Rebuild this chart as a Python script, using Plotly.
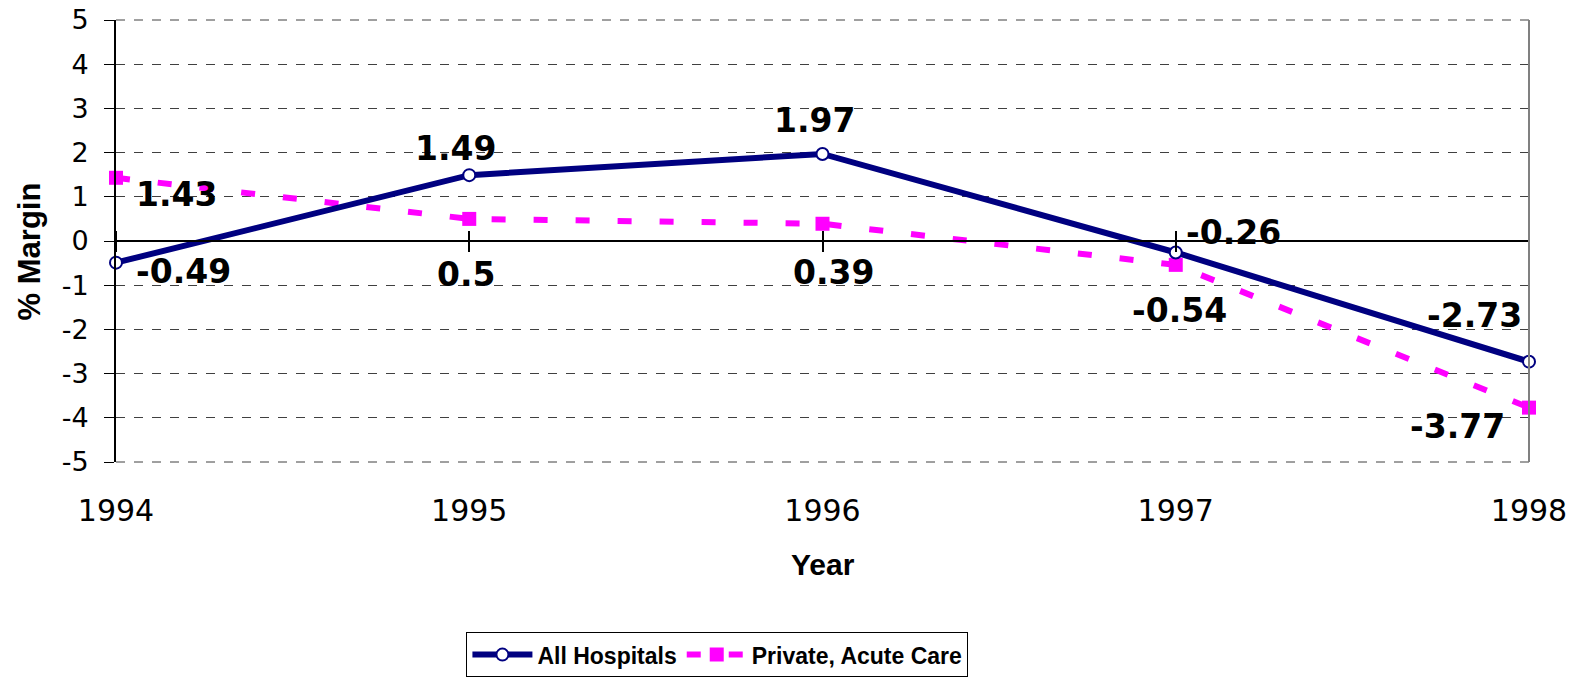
import plotly.graph_objects as go

years = [1994, 1995, 1996, 1997, 1998]
all_hospitals = [-0.49, 1.49, 1.97, -0.26, -2.73]
private_acute = [1.43, 0.5, 0.39, -0.54, -3.77]
year_labels = ["1994", "1995", "1996", "1997", "1998"]
y_ticks = list(range(-5, 6))
y_tick_labels = [str(v) for v in y_ticks]

# label offsets in px (dx, dy downward)
all_offsets = [(67, 9), (-14, -27), (-8, -33), (58, -20), (-55, -46)]
priv_offsets = [(60, 17), (-3, 56), (11, 49), (4, 46), (-72, 19)]

NAVY = "#000080"
MAGENTA = "#FF00FF"
GRID = "#404040"

fig = go.Figure()
fig.add_trace(go.Scatter(
    x=years, y=private_acute, name="Private, Acute Care", mode="lines+markers",
    line=dict(color=MAGENTA, width=6, dash="14px,28px"),
    marker=dict(symbol="square", size=14, color=MAGENTA),
    cliponaxis=False,
))
fig.add_trace(go.Scatter(
    x=years, y=all_hospitals, name="All Hospitals", mode="lines+markers",
    line=dict(color=NAVY, width=6),
    marker=dict(symbol="circle", size=12, color="white", line=dict(color=NAVY, width=2)),
    cliponaxis=False,
))
# empty helper traces so the zero-crossing tick axes are rendered
for ax in ("x2", "x3"):
    fig.add_trace(go.Scatter(x=[None], y=[None], xaxis=ax, yaxis="y", showlegend=False,
                             hoverinfo="skip", mode="lines"))

label_font = dict(family="DejaVu Sans", size=33, color="black", weight="bold")
annotations = []
for x, v, (dx, dy) in zip(years, all_hospitals, all_offsets):
    annotations.append(dict(x=x, y=v, text=f"{v:g}", showarrow=False, xshift=dx, yshift=-dy, font=label_font))
for x, v, (dx, dy) in zip(years, private_acute, priv_offsets):
    annotations.append(dict(x=x, y=v, text=f"{v:g}", showarrow=False, xshift=dx, yshift=-dy, font=label_font))

title_font = dict(family="Liberation Sans", size=30, color="black", weight="bold")
annotations.append(dict(text="Year", xref="paper", yref="paper", x=0.5, y=-0.233,
                        showarrow=False, font=title_font, xanchor="center", yanchor="middle"))
annotations.append(dict(text="% Margin", xref="paper", yref="paper", x=-0.061, y=0.476,
                        showarrow=False, font=dict(title_font, size=31), textangle=-90,
                        xanchor="center", yanchor="middle"))

axis_common = dict(range=[1994, 1998], tickvals=years, showgrid=False, zeroline=False,
                   automargin=False)

fig.update_layout(
    width=1577, height=677,
    margin=dict(l=116, r=48, t=20, b=215, autoexpand=False),
    plot_bgcolor="white", paper_bgcolor="white",
    showlegend=True,
    legend=dict(orientation="h", x=0.248, y=-0.385, xanchor="left", yanchor="top",
                bordercolor="black", borderwidth=1, traceorder="reversed",
                font=dict(family="Liberation Sans", size=23, color="black", weight="bold"),
                itemwidth=60),
    xaxis=dict(**axis_common, ticktext=year_labels, showline=False, ticks="",
               tickfont=dict(family="DejaVu Sans", size=30, color="black"),
               ticklabelstandoff=28, ticklabeloverflow="allow"),
    xaxis2=dict(**axis_common, overlaying="x", anchor="free", position=0.5, side="bottom",
                showline=True, linecolor="black", linewidth=2, ticks="outside", ticklen=10,
                tickwidth=2, tickcolor="black", showticklabels=False),
    xaxis3=dict(**axis_common, overlaying="x", anchor="free", position=0.5, side="top",
                showline=False, ticks="outside", ticklen=10,
                tickwidth=2, tickcolor="black", showticklabels=False),
    yaxis=dict(range=[-5, 5], tickvals=y_ticks, ticktext=y_tick_labels, showgrid=True,
               gridcolor=GRID, automargin=False, ticklabeloverflow="allow",
               griddash="dash", gridwidth=1, showline=True, linecolor="black", linewidth=2,
               ticks="outside", ticklen=10, tickcolor="black", tickwidth=1,
               tickfont=dict(family="DejaVu Sans", size=27, color="black"),
               ticklabelstandoff=10, zeroline=True, zerolinecolor="black", zerolinewidth=2),
    annotations=annotations,
    shapes=[
        dict(type="line", xref="paper", yref="paper", x0=0, x1=1, y0=1, y1=1,
             line=dict(color=GRID, width=1, dash="dash"), layer="below"),
        dict(type="line", xref="paper", yref="paper", x0=0, x1=1, y0=0, y1=0,
             line=dict(color=GRID, width=1, dash="dash"), layer="below"),
        dict(type="line", xref="paper", yref="paper", x0=1, x1=1, y0=0, y1=1,
             line=dict(color="#808080", width=2)),
    ],
)

# remove the default 8px page margin so the figure fills the window exactly
fig.write_html("out.html", config={"displayModeBar": False},
               post_script="document.body.style.margin='0px';document.body.style.overflow='hidden';")
